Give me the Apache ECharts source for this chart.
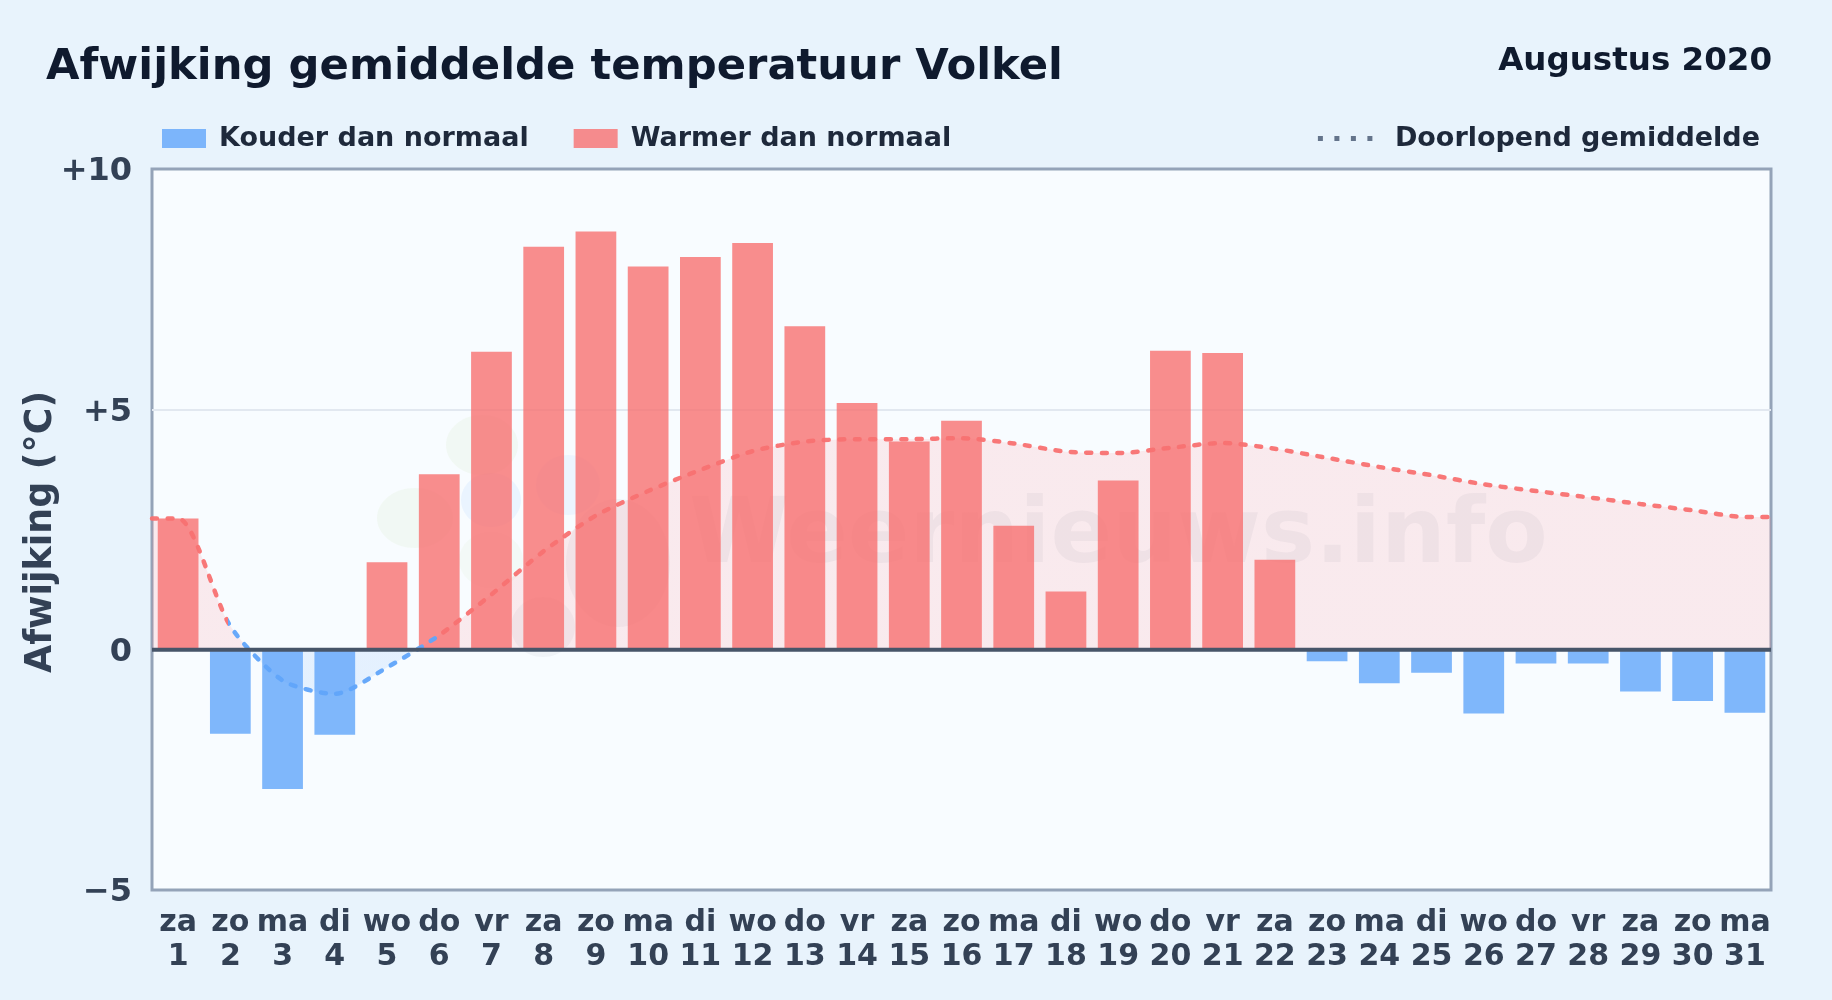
<!DOCTYPE html>
<html><head><meta charset="utf-8">
<style>html,body{margin:0;padding:0;background:#e8f3fc;width:1832px;height:1000px;overflow:hidden}#c{width:1832px;height:1000px}</style>
<script src="https://cdn.jsdelivr.net/npm/echarts@6/dist/echarts.min.js"></script>
</head><body><div id="c"></div>
<script>
const weekdays = ['za','zo','ma','di','wo','do','vr','za','zo','ma','di','wo','do','vr','za','zo','ma','di','wo','do','vr','za','zo','ma','di','wo','do','vr','za','zo','ma'];
const days = [1,2,3,4,5,6,7,8,9,10,11,12,13,14,15,16,17,18,19,20,21,22,23,24,25,26,27,28,29,30,31];
const anomaly = [2.73,-1.75,-2.9,-1.77,1.82,3.65,6.2,8.38,8.7,7.97,8.17,8.46,6.73,5.13,4.33,4.76,2.58,1.21,3.52,6.22,6.17,1.87,-0.24,-0.7,-0.48,-1.33,-0.29,-0.29,-0.87,-1.07,-1.31];
const runningX = [0.5,1,2,3,4,5,6,7,8,9,10,11,12,13,14,15,16,17,18,19,20,21,22,23,24,25,26,27,28,29,30,31,31.5];
const runningY = [2.73,2.73,0.49,-0.64,-0.92,-0.37,0.3,1.15,2.05,2.79,3.3,3.74,4.13,4.33,4.38,4.38,4.4,4.29,4.12,4.09,4.2,4.3,4.18,3.99,3.8,3.63,3.44,3.3,3.17,3.03,2.9,2.76,2.76];
const yTicks = {'10':'+10','5':'+5','0':'0','-5':'−5'};
const WARM='rgba(248,113,113,0.8)', COLD='rgba(96,165,250,0.8)';
const RED='#f87171', BLUE='#60a5fa', AREA_RED='#ff7078';
const FONT='"DejaVu Sans"';
const categories = days.map((d,i)=>weekdays[i]+'\n'+d);
const running = runningX.map((x,i)=>[x,runningY[i]]);
const G = echarts.graphic.LinearGradient;
const yMax=Math.max(...runningY), yMin=Math.min(...runningY), z0=yMax/(yMax-yMin);
const areaFill = new G(0,0,0,1,[{offset:0,color:AREA_RED},{offset:z0,color:AREA_RED},{offset:z0,color:BLUE},{offset:1,color:BLUE}]);
const b0=(2-0.5)/31, b1=(6-0.5)/31;
const lineFill = new G(0,0,1,0,[{offset:0,color:RED},{offset:b0,color:RED},{offset:b0,color:BLUE},{offset:b1,color:BLUE},{offset:b1,color:RED},{offset:1,color:RED}]);
const blob=(cx,cy,rx,ry,fill)=>({type:'ellipse',z:1,silent:true,shape:{cx,cy,rx,ry},style:{fill}});
const chart = echarts.init(document.getElementById('c'),null,{renderer:'canvas'});
chart.setOption({
  animation:false,
  backgroundColor:'#e8f3fc',
  textStyle:{fontFamily:FONT},
  title:[
    {text:'Afwijking gemiddelde temperatuur Volkel',left:41,top:41,textStyle:{fontFamily:FONT,fontSize:43.3,fontWeight:'bold',color:'#0f1a2e'}},
    {text:'Augustus 2020',right:55,top:40,textStyle:{fontFamily:FONT,fontSize:32.5,fontWeight:'bold',color:'#0f1a2e'}}
  ],
  grid:{left:152,right:61,top:169,bottom:110,show:true,backgroundColor:'#f8fcff',borderColor:'#94a3b8',borderWidth:3},
  legend:[
    {left:157,top:120,itemWidth:44,itemHeight:19,itemGap:45,selectedMode:false,
     textStyle:{fontFamily:FONT,fontSize:27,fontWeight:'bold',color:'#1e293b',padding:[0,0,0,8]},
     data:[{name:'Kouder dan normaal',icon:'rect',itemStyle:{color:COLD}},{name:'Warmer dan normaal',icon:'rect',itemStyle:{color:WARM}}]},
    {right:67,top:120,itemWidth:56,itemHeight:20,selectedMode:false,
     textStyle:{fontFamily:FONT,fontSize:27,fontWeight:'bold',color:'#1e293b',padding:[0,0,0,16]},
     data:[{name:'Doorlopend gemiddelde',itemStyle:{opacity:0},lineStyle:{color:'#64748b',width:5,type:[5,11.5],cap:'butt',opacity:1}}]}
  ],
  xAxis:[
    {type:'category',data:categories,boundaryGap:true,axisLine:{show:false},axisTick:{show:false},splitLine:{show:false},
     axisLabel:{interval:0,color:'#334155',fontFamily:FONT,fontSize:30,fontWeight:'bold',lineHeight:34,margin:16}},
    {type:'value',min:0.5,max:31.5,show:false,splitLine:{show:false}}
  ],
  yAxis:{type:'value',min:-5,max:10,interval:5,
    name:'Afwijking (°C)',nameLocation:'middle',nameMoveOverlap:false,nameGap:92,nameTextStyle:{fontFamily:FONT,fontSize:36.4,fontWeight:'bold',color:'#334155',padding:[0,5,0,0]},
    axisLine:{show:false},axisTick:{show:false},
    axisLabel:{margin:20,formatter:v=>'{t|'+yTicks[String(v)]+'}',
      rich:{t:{color:'#334155',fontFamily:FONT,fontSize:32,fontWeight:'bold',padding:[6,0,0,0]}}},
    splitLine:{show:true,showMinLine:false,showMaxLine:false,lineStyle:{color:'#e2e8f0',width:2}}},
  series:[
    {type:'line',name:'area',xAxisIndex:1,data:running,smooth:0.25,symbol:'none',silent:true,z:1,
     lineStyle:{width:0},areaStyle:{color:areaFill,opacity:0.13,origin:0}},
    {type:'bar',name:'Warmer dan normaal',data:anomaly,barWidth:'78%',barGap:'-100%',z:2,silent:true,
     itemStyle:{color:p=>p.value<0?COLD:WARM}},
    {type:'line',name:'Doorlopend gemiddelde',xAxisIndex:1,data:running,smooth:0.25,symbol:'none',silent:true,z:4,
     lineStyle:{color:lineFill,width:4.5,type:[5,10.5],cap:'round',opacity:0.95}},
    {type:'bar',name:'Kouder dan normaal',data:[],barWidth:'78%',barGap:'-100%',silent:true,itemStyle:{color:COLD}},
    {type:'line',xAxisIndex:1,data:[[0.5,0],[31.5,0]],symbol:'none',silent:true,z:5,lineStyle:{color:'#475569',width:4}}
  ],
  graphic:[
    {type:'text',left:689,top:493,z:1,silent:true,style:{text:'Weernieuws.info',fontFamily:FONT,fontSize:91,fontWeight:'bold',fill:'rgba(71,85,105,0.06)'}},
    blob(415,518,38,30,'rgba(190,220,150,0.10)'),
    blob(482,445,36,30,'rgba(190,220,150,0.10)'),
    blob(491,560,32,28,'rgba(190,220,150,0.08)'),
    blob(491,500,30,27,'rgba(96,165,250,0.09)'),
    blob(568,485,32,30,'rgba(96,165,250,0.08)'),
    blob(618,563,52,64,'rgba(71,85,105,0.05)'),
    blob(543,627,32,30,'rgba(71,85,105,0.05)')
  ]
});
</script></body></html>
